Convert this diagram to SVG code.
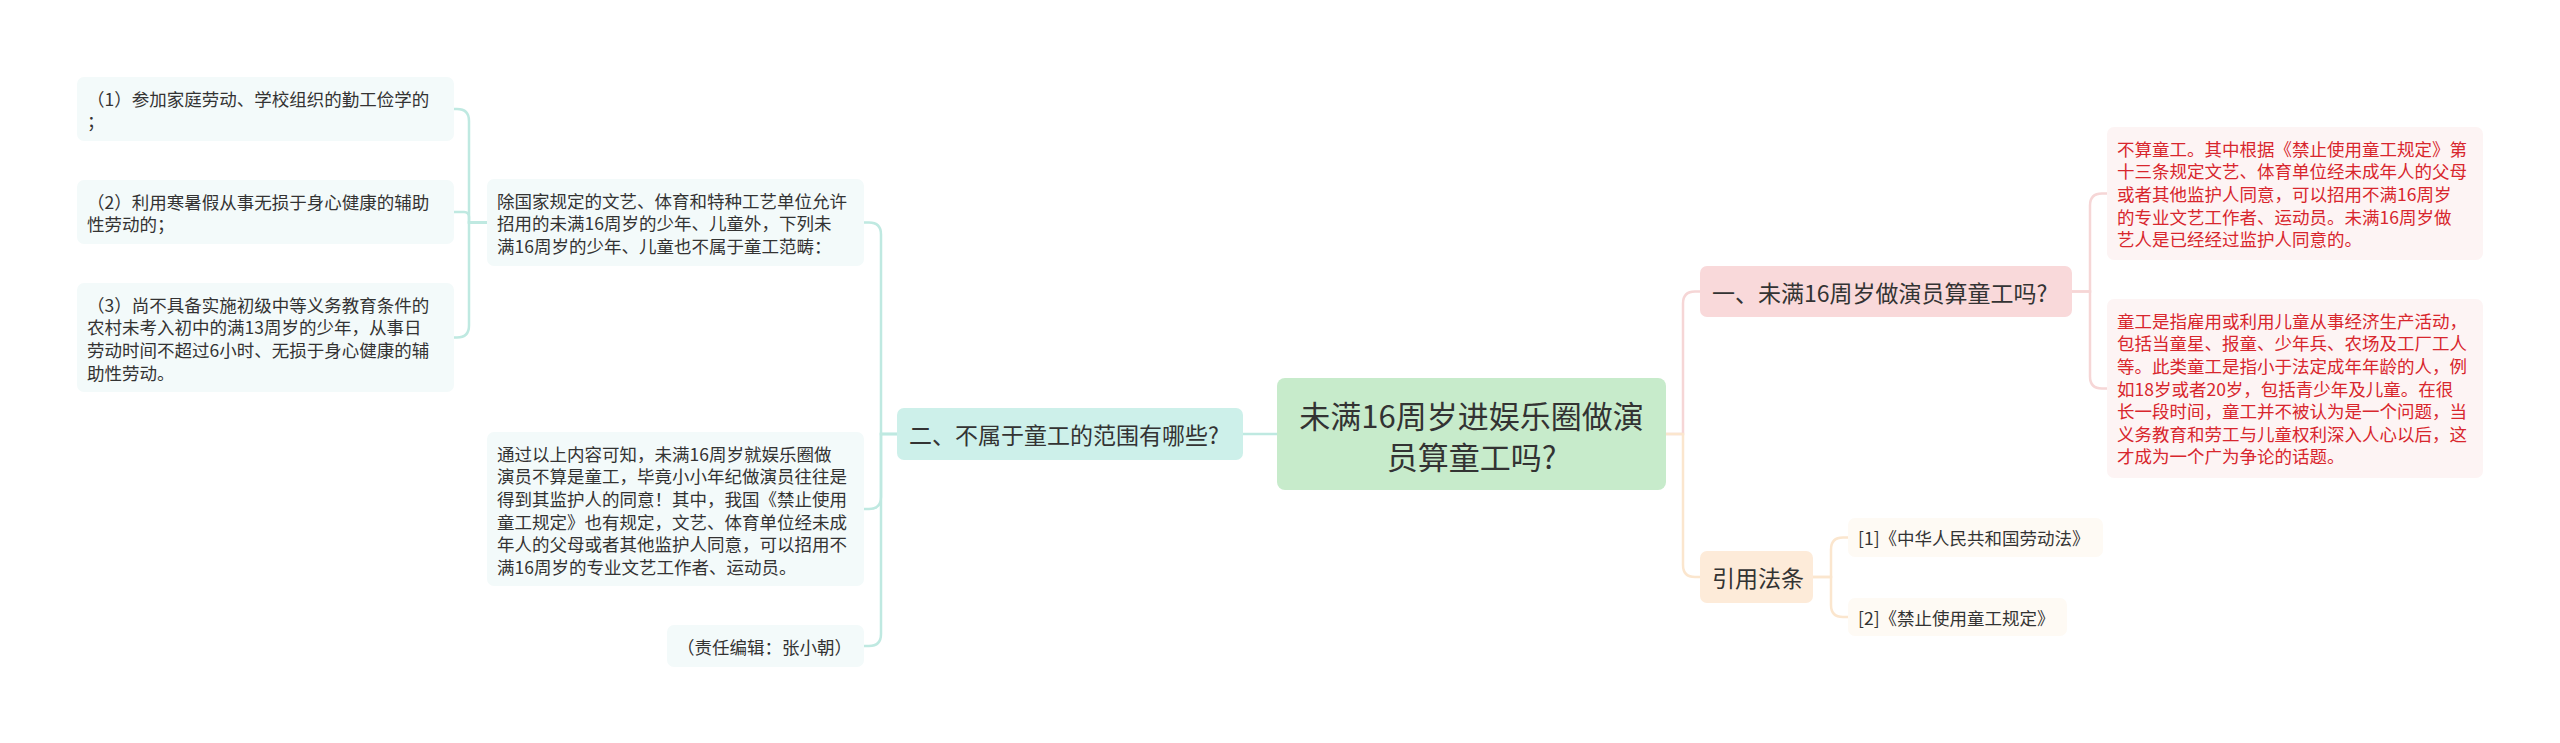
<svg xmlns="http://www.w3.org/2000/svg" width="2560" height="743" viewBox="0 0 2560 743">
<style>
text{font-family:"Noto Sans CJK SC","Liberation Sans",sans-serif;dominant-baseline:central;fill:#333}
.leaf{font-size:17.5px}
.l1{font-size:23px}
.root{font-size:31px;text-anchor:middle}
.red{fill:#d8262d}
.c{fill:none;stroke-width:2.5;stroke-linecap:round}
.ct{stroke:#bfe9e1}
.cp{stroke:#f6d6d6}
.co{stroke:#fbe6ce}
.bt{fill:#f3fafa}
.bp{fill:#fdf4f4}
.bo{fill:#fefaf4}
</style>
<rect width="2560" height="743" fill="#ffffff"/>
<g id="connectors">
<path class="c ct" d="M1277 434 H1243"/>
<path class="c ct" d="M897 434 H881 V234.5 Q881 222.5 869 222.5 H864"/>
<path class="c ct" d="M897 434 H881 V497 Q881 509 869 509 H864"/>
<path class="c ct" d="M897 434 H881 V634 Q881 646 869 646 H864"/>
<path class="c ct" d="M487 222.5 H469 V121 Q469 109 457 109 H454"/>
<path class="c ct" d="M487 222.5 H469 V217 Q469 212 464 212 H454"/>
<path class="c ct" d="M487 222.5 H469 V325.5 Q469 337.5 457 337.5 H454"/>
<path class="c cp" d="M1666 434 H1683 V303.5 Q1683 291.5 1695 291.5 H1700"/>
<path class="c co" d="M1666 434 H1683 V565 Q1683 577 1695 577 H1700"/>
<path class="c cp" d="M2072 291.5 H2090 V205.5 Q2090 193.5 2102 193.5 H2107"/>
<path class="c cp" d="M2072 291.5 H2090 V376.5 Q2090 388.5 2102 388.5 H2107"/>
<path class="c co" d="M1813 577 H1831 V549.5 Q1831 537.5 1843 537.5 H1848"/>
<path class="c co" d="M1813 577 H1831 V605 Q1831 617 1843 617 H1848"/>
</g>
<g id="root">
<rect x="1277" y="378" width="389" height="112" rx="8" fill="#c7ebcb"/>
<text class="root" x="1471.5" y="414.5">未满16周岁进娱乐圈做演</text>
<text class="root" x="1471.5" y="455.5">员算童工吗?</text>
</g>
<g id="n-er">
<rect x="897" y="408" width="346" height="52" rx="7" fill="#cdf0ea"/>
<text class="l1" x="909" y="434">二、不属于童工的范围有哪些?</text>
</g>
<g id="n-chuguojia">
<rect class="bt" x="487" y="179" width="377" height="87" rx="7"/>
<text class="leaf" x="497" y="200.3">除国家规定的文艺、体育和特种工艺单位允许</text>
<text class="leaf" x="497" y="222.9">招用的未满16周岁的少年、儿童外，下列未</text>
<text class="leaf" x="497" y="245.5">满16周岁的少年、儿童也不属于童工范畴：</text>
</g>
<g id="n-leaf1">
<rect class="bt" x="77" y="77" width="377" height="64" rx="7"/>
<text class="leaf" x="87" y="98.3">（1）参加家庭劳动、学校组织的勤工俭学的</text>
<text class="leaf" x="87" y="120.9">；</text>
</g>
<g id="n-leaf2">
<rect class="bt" x="77" y="180" width="377" height="64" rx="7"/>
<text class="leaf" x="87" y="201.3">（2）利用寒暑假从事无损于身心健康的辅助</text>
<text class="leaf" x="87" y="223.9">性劳动的；</text>
</g>
<g id="n-leaf3">
<rect class="bt" x="77" y="283" width="377" height="109" rx="7"/>
<text class="leaf" x="87" y="304.3">（3）尚不具备实施初级中等义务教育条件的</text>
<text class="leaf" x="87" y="326.9">农村未考入初中的满13周岁的少年，从事日</text>
<text class="leaf" x="87" y="349.5">劳动时间不超过6小时、无损于身心健康的辅</text>
<text class="leaf" x="87" y="372.1">助性劳动。</text>
</g>
<g id="n-tongguo">
<rect class="bt" x="487" y="432" width="377" height="154" rx="7"/>
<text class="leaf" x="497" y="453.3">通过以上内容可知，未满16周岁就娱乐圈做</text>
<text class="leaf" x="497" y="475.9">演员不算是童工，毕竟小小年纪做演员往往是</text>
<text class="leaf" x="497" y="498.5">得到其监护人的同意！其中，我国《禁止使用</text>
<text class="leaf" x="497" y="521.1">童工规定》也有规定，文艺、体育单位经未成</text>
<text class="leaf" x="497" y="543.7">年人的父母或者其他监护人同意，可以招用不</text>
<text class="leaf" x="497" y="566.3">满16周岁的专业文艺工作者、运动员。</text>
</g>
<g id="n-editor">
<rect class="bt" x="667" y="625" width="197" height="42" rx="7"/>
<text class="leaf" x="677" y="646">（责任编辑：张小朝）</text>
</g>
<g id="n-yi">
<rect x="1700" y="266" width="372" height="51" rx="7" fill="#f9d9da"/>
<text class="l1" x="1712" y="291.5">一、未满16周岁做演员算童工吗?</text>
</g>
<g id="n-red1">
<rect class="bp" x="2107" y="127" width="376" height="133" rx="7"/>
<text class="leaf red" x="2117" y="148.3">不算童工。其中根据《禁止使用童工规定》第</text>
<text class="leaf red" x="2117" y="170.9">十三条规定文艺、体育单位经未成年人的父母</text>
<text class="leaf red" x="2117" y="193.5">或者其他监护人同意，可以招用不满16周岁</text>
<text class="leaf red" x="2117" y="216.1">的专业文艺工作者、运动员。未满16周岁做</text>
<text class="leaf red" x="2117" y="238.7">艺人是已经经过监护人同意的。</text>
</g>
<g id="n-red2">
<rect class="bp" x="2107" y="299" width="376" height="179" rx="7"/>
<text class="leaf red" x="2117" y="320.3">童工是指雇用或利用儿童从事经济生产活动，</text>
<text class="leaf red" x="2117" y="342.9">包括当童星、报童、少年兵、农场及工厂工人</text>
<text class="leaf red" x="2117" y="365.5">等。此类童工是指小于法定成年年龄的人，例</text>
<text class="leaf red" x="2117" y="388.1">如18岁或者20岁，包括青少年及儿童。在很</text>
<text class="leaf red" x="2117" y="410.7">长一段时间，童工并不被认为是一个问题，当</text>
<text class="leaf red" x="2117" y="433.3">义务教育和劳工与儿童权利深入人心以后，这</text>
<text class="leaf red" x="2117" y="455.9">才成为一个广为争论的话题。</text>
</g>
<g id="n-law">
<rect x="1700" y="551" width="113" height="52" rx="7" fill="#fdebd9"/>
<text class="l1" x="1712" y="577">引用法条</text>
</g>
<g id="n-law1">
<rect class="bo" x="1848" y="518" width="255" height="39" rx="7"/>
<text class="leaf" x="1858" y="537.5">[1]《中华人民共和国劳动法》</text>
</g>
<g id="n-law2">
<rect class="bo" x="1848" y="598" width="219" height="38" rx="7"/>
<text class="leaf" x="1858" y="617">[2]《禁止使用童工规定》</text>
</g>
</svg>
